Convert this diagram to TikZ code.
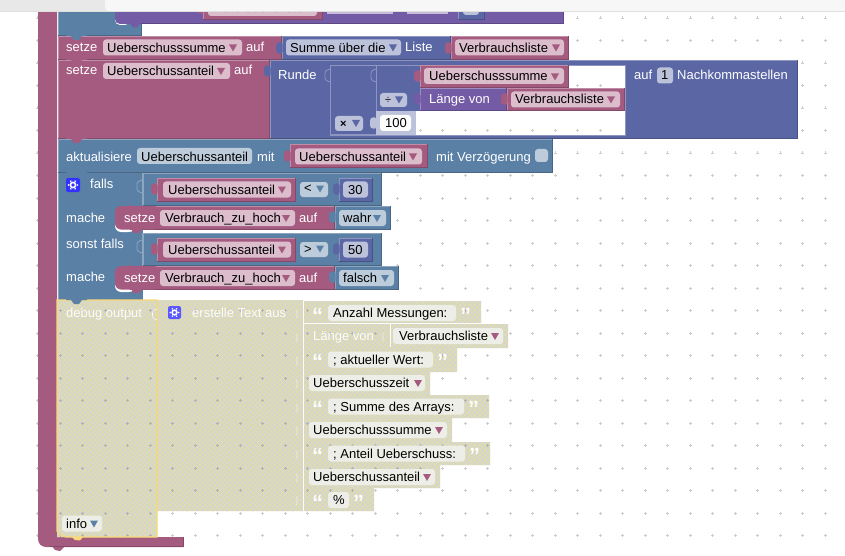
\documentclass[tikz,border=0pt]{standalone}
\usepackage{fontspec}
\setmainfont{Liberation Sans}
\definecolor{mag}{HTML}{A55B80}
\definecolor{magL}{HTML}{C08DA6}
\definecolor{magD}{HTML}{844966}
\definecolor{magF}{HTML}{DBBDCC}
\definecolor{blu}{HTML}{5B80A5}
\definecolor{bluL}{HTML}{8DA6C0}
\definecolor{bluD}{HTML}{496684}
\definecolor{bluF}{HTML}{BDCCDB}
\definecolor{mat}{HTML}{5B67A5}
\definecolor{matL}{HTML}{8D95C0}
\definecolor{matD}{HTML}{495284}
\definecolor{matF}{HTML}{BDC2DB}
\definecolor{lis}{HTML}{745BA5}
\definecolor{lisL}{HTML}{9D8DC0}
\definecolor{lisD}{HTML}{5D4984}
\definecolor{lisF}{HTML}{C7BDDB}
\definecolor{dis}{HTML}{D4D4D2}
\definecolor{disF}{HTML}{EEEEE8}
\definecolor{hatch}{HTML}{E4E29C}
\definecolor{gridc}{HTML}{CCCCCC}
\definecolor{frame}{HTML}{F8D878}
\tikzset{
  x=1pt,y=-1pt,
  lbl/.style={font=\fontsize{13}{16}\selectfont,inner sep=0pt,anchor=base west,text=white},
  dislbl/.style={lbl,text=white!92!dis},
  ftxt/.style={lbl,text=black},
  hatchline/.style={draw=hatch,line width=.5pt},
  quot/.style={dislbl,font=\bfseries\fontsize{22}{22}\selectfont},
}
\newcommand{\blk}[5]{%
  \fill[#5] (#1,#2) rectangle (#3,#4);
  \draw[#5L,line width=.8pt] (#1+.4,#4) -- (#1+.4,#2+.4) -- (#3,#2+.4);
  \draw[#5D,line width=.8pt] (#3-.4,#2) -- (#3-.4,#4-.4) -- (#1,#4-.4);
}
\newcommand{\tabL}[3]{%
  \fill[#3,rounded corners=1.3pt] (#1+.5,#2+2) -- (#1-3,#2+1) -- (#1-6,#2+3) -- (#1-6,#2+11) -- (#1-3,#2+13) -- (#1+.5,#2+12) -- cycle;
}
\newcommand{\fld}[4]{%
  \fill[#4,rounded corners=3pt] (#1,#3-8) rectangle (#2,#3+8);
}
\newcommand{\arr}[3]{%
  \fill[#3] (#1-4,#2-3.5) -- (#1+4,#2-3.5) -- (#1,#2+3.5) -- cycle;
}
\newcommand{\notch}[3]{%
  \fill[#3] (#1,#2) -- (#1+5,#2) -- (#1+8,#2+4) -- (#1+13,#2+4) -- (#1+16,#2) -- (#1+21,#2) -- (#1+21,#2-2) -- (#1,#2-2) -- cycle;
}
\newcommand{\gridpt}[3]{%
  \fill[#3] (#1-1.5,#2-.4) rectangle (#1+1.5,#2+.4);
  \fill[#3] (#1-.4,#2-1.5) rectangle (#1+.4,#2+1.5);
}
\newcommand{\hatchclip}[1]{%
  \begin{scope}
    \clip #1;
    \fill[dis] (40,295) rectangle (530,545);
    \foreach \k in {-60,...,180} {
      \draw[hatchline] (\k*5,295) -- (\k*5+250,545);
      \draw[hatchline] (\k*5,295) -- (\k*5-250,545);
    }
    \foreach \i in {0,...,36} \foreach \j in {13,...,24} {
      \gridpt{37.5+22.5*\i}{18+22.5*\j}{gray!60}
    }
  \end{scope}
}
\begin{document}
\begin{tikzpicture}
\useasboundingbox (0,0) rectangle (845,556);
\fill[white] (0,0) rectangle (845,556);
\foreach \i in {0,...,36} \foreach \j in {0,...,23} {
  \gridpt{37.5+22.5*\i}{18+22.5*\j}{gridc}
}
% outer C-block
\fill[mag] (57,5) -- (38,5) -- (38,500) [rounded corners=8pt] -- (38,547) -- (100,547) [sharp corners] -- (183,547) -- (183,537) -- (57,537) -- cycle;
\fill[mag] (52,546) -- (55,550) -- (60,551) -- (65,546) -- cycle;
\draw[magD,line width=.8pt] (183,537) -- (183,546.6) -- (50,546.6);
% top fragment
\blk{58}{5}{142}{36}{blu}
\fill[white,rounded corners=5pt] (115,5) -- (115,25) -- (130,25) -- (130,5) -- cycle;
\blk{125}{5}{564}{24}{lis}
\fill[lis,rounded corners=5pt] (115,5) -- (115,24) -- (141,24) -- (141,5) -- cycle;
\fill[lis] (130,23) -- (133,27.5) -- (137,27.5) -- (141,23) -- cycle;
\blk{203}{5}{323}{20}{mag}
\tabL{203}{1}{mag}
\fld{208}{317}{8}{magF}
\node[ftxt] (t0) at (214,13) {Verbrauchsliste};
\fill[lisF] (327,5) rectangle (393,14);
\fill[lisF] (407,5) rectangle (448,14);
\blk{458}{5}{485}{20}{mat}
\fld{463}{479}{7}{matF}
\node[ftxt] (t00) at (468,12) {1};
% top bar
\fill[white!97!black] (0,0) rectangle (845,11);
\fill[white!91!black] (0,0) -- (105,0) -- (105,8) -- (107,11) -- (0,11) -- cycle;
\draw[white!88!black,line width=.8pt] (0,11.4) -- (845,11.4);

% setze Ueberschusssumme
\blk{58}{36}{282}{60}{mag}
\notch{66}{36}{blu}
\node[lbl] (a1) at (66,52) {setze};
\fld{103}{242}{47.5}{magF}
\node[ftxt] (a2) at (107,52.5) {Ueberschusssumme};
\arr{233}{48}{mag}
\node[lbl] (a3) at (246,52) {auf};
\blk{282}{36}{451}{60}{mat}
\tabL{282}{41}{mat}
\fld{286}{401}{47.5}{matF}
\node[ftxt] (a4) at (290,52.5) {Summe über die};
\arr{393}{48}{mat}
\node[lbl] (a5) at (405,52) {Liste};
\blk{451}{36}{569}{60}{mag}
\tabL{451}{41}{mag}
\fld{455}{564}{47.5}{magF}
\node[ftxt] (a6) at (459,52.5) {Verbrauchsliste};
\arr{556}{48}{mag}

% setze Ueberschussanteil
\blk{58}{60}{270}{139}{mag}
\notch{66}{60}{mag}
\node[lbl] (b1) at (66,75) {setze};
\fld{103}{230}{71}{magF}
\node[ftxt] (b2) at (107,75.5) {Ueberschussanteil};
\arr{221}{71.5}{mag}
\node[lbl] (b3) at (234,75) {auf};
\blk{270}{60}{798}{139}{mat}
\tabL{270}{64}{mat}
\node[lbl] (b4) at (278,80) {Runde};
\fill[white] (330,65) rectangle (626,135);
\foreach \i in {14,...,25} \foreach \j in {3,...,5} {
  \gridpt{37.5+22.5*\i}{18+22.5*\j}{gridc}
}
\draw[matL,line width=.8pt] (330.4,135) -- (330.4,65.4) -- (626,65.4);
\draw[matL,line width=.8pt] (330,135) -- (625.6,135) -- (625.6,65);
% x block
\fill[mat] (331,66) rectangle (376,135);
\draw[matL,line width=.8pt] (331,134.6) -- (376,134.6);
\fill[matF,rounded corners=3pt] (335,116) rectangle (363,131);
\node[ftxt,font=\fontsize{11}{13}\selectfont\bfseries] (b5) at (340,127.5) {×};
\arr{356}{123.5}{mat}
% 100
\fill[matF] (376,111) rectangle (416,135);
\tabL{376}{116}{matF}
\fill[white!96!matF,rounded corners=3pt] (380,115) rectangle (411,131);
\node[ftxt] (b6) at (385,128) {100};
% div block
\fill[mat] (376,66) rectangle (420,111);
\draw[matL,line width=.8pt] (376.4,66) -- (376.4,111);
\fill[matF,rounded corners=3pt] (380,93) rectangle (407,107);
\node[ftxt,font=\fontsize{11}{13}\selectfont] (b7) at (385,104) {÷};
\arr{399}{100}{mat}
% Ueberschusssumme
\blk{420}{65}{569}{88}{mag}
\tabL{420}{69}{mag}
\fld{424}{564}{76}{magF}
\node[ftxt] (b8) at (429,81) {Ueberschusssumme};
\arr{555}{77}{mag}
% Laenge von
\blk{420}{88}{507}{111}{lis}
\tabL{420}{92}{lis}
\node[lbl] (b9) at (429,104) {Länge von};
\blk{507}{88}{625}{111}{mag}
\tabL{507}{92}{mag}
\fld{511}{620}{99.5}{magF}
\node[ftxt] (b10) at (515,104) {Verbrauchsliste};
\arr{611}{100}{mag}
% sockets
\draw[matL,line width=.8pt,rounded corners=1pt] (330.5,69) -- (327,70) -- (325,72) -- (325,79) -- (327,81) -- (330.5,82);
\draw[matL,line width=.8pt,rounded corners=1pt] (376.5,69) -- (373,70) -- (371,72) -- (371,79) -- (373,81) -- (376.5,82);
\node[lbl] (b11) at (634,80) {auf};
\fld{657}{673}{75.5}{matF}
\node[ftxt] (b12) at (661,80) {1};
\node[lbl] (b13) at (677,80) {Nachkommastellen};

% aktualisiere
\blk{58}{139}{553}{173}{blu}
\notch{66}{139}{mag}
\node[lbl] (c1) at (66,161) {aktualisiere};
\fld{137}{252}{156}{bluF}
\node[ftxt] (c2) at (141,161) {Ueberschussanteil};
\node[lbl] (c3) at (257,161) {mit};
\blk{290}{144.5}{428}{168}{mag}
\tabL{290}{149}{mag}
\fld{295}{422}{156.5}{magF}
\node[ftxt] (c4) at (299,161.5) {Ueberschussanteil};
\arr{413}{157}{mag}
\node[lbl] (c5) at (436,161) {mit Verzögerung};
\fill[bluF,rounded corners=3pt] (535,149) rectangle (548,162);

% falls
\fill[blu] (58,173) rectangle (143,300);
\draw[bluL,line width=.8pt] (58.4,173) -- (58.4,300);
\notch{66}{173}{blu}
\blk{143}{173}{382}{206}{blu}
\blk{143}{233}{382}{266}{blu}
\draw[bluL,line width=.8pt] (142.8,173) -- (142.8,206);
\draw[bluL,line width=.8pt] (142.8,233) -- (142.8,266);
% gear
\fill[blue!80!white,rounded corners=2pt] (66,178) rectangle (80,192);
\draw[white,line width=1.6pt] (73,185) circle (2.6pt);
\foreach \a in {0,60,...,300} \fill[white] (73,185) ++(\a:4.4pt) circle (.9pt);
\node[lbl] (d1) at (90,189) {falls};
\draw[bluL,line width=.8pt,rounded corners=1pt] (142.5,180) -- (139,181) -- (137,183) -- (137,190) -- (139,192) -- (142.5,193);
\draw[bluL,line width=.8pt,rounded corners=1pt] (142.5,240) -- (139,241) -- (137,243) -- (137,250) -- (139,252) -- (142.5,253);
\blk{157}{178}{296}{202}{mag}
\tabL{157}{182}{mag}
\fld{163}{291}{189.5}{magF}
\node[ftxt] (d2) at (168,194.5) {Ueberschussanteil};
\arr{282}{190}{mag}
\fill[bluF,rounded corners=3pt] (300,182) rectangle (328,197);
\node[ftxt] (d3) at (304,193) {<};
\arr{320}{189}{blu}
\blk{339}{178}{373}{202}{mat}
\tabL{339}{182}{mat}
\fld{343}{368}{189.5}{matF}
\node[ftxt] (d4) at (348,194.5) {30};
% then 1
\node[lbl] (d5) at (66,222) {mache};
\fill[white,rounded corners=6pt] (115,210) -- (115,232) -- (135,232) -- (135,210) -- cycle;
\blk{130}{206}{335}{229.5}{mag}
\fill[mag,rounded corners=6pt] (115,206) rectangle (160,229.5);
\fill[mag] (128,204.5) .. controls (133,209) and (137,209) .. (142,205) -- (142,208) -- (128,208) -- cycle;
\fill[mag] (131,229) -- (134,233) -- (139,233) -- (142,229) -- cycle;
\node[lbl] (d6) at (124,222.5) {setze};
\fld{160}{295}{218}{magF}
\node[ftxt] (d7) at (165,222.5) {Verbrauch\_zu\_hoch};
\arr{286}{218.5}{mag}
\node[lbl] (d8) at (299,222.5) {auf};
\blk{335}{206}{391}{230}{blu}
\tabL{335}{210}{blu}
\fld{339}{386}{218}{bluF}
\node[ftxt] (d9) at (343,222.5) {wahr};
\arr{377}{218.5}{blu}
% sonst falls
\node[lbl] (e1) at (66,248) {sonst falls};
\blk{157}{238}{296}{262}{mag}
\tabL{157}{242}{mag}
\fld{163}{291}{249.5}{magF}
\node[ftxt] (e2) at (168,254.5) {Ueberschussanteil};
\arr{282}{250}{mag}
\fill[bluF,rounded corners=3pt] (300,242) rectangle (328,257);
\node[ftxt] (e3) at (304,253) {>};
\arr{320}{249}{blu}
\blk{339}{238}{373}{262}{mat}
\tabL{339}{242}{mat}
\fld{343}{368}{249.5}{matF}
\node[ftxt] (e4) at (348,254.5) {50};
% then 2
\node[lbl] (e5) at (66,281.5) {mache};
\fill[white,rounded corners=6pt] (115,270) -- (115,292) -- (135,292) -- (135,270) -- cycle;
\blk{130}{266}{335}{289.5}{mag}
\fill[mag,rounded corners=6pt] (115,266) rectangle (160,289.5);
\fill[mag] (128,264.5) .. controls (133,269) and (137,269) .. (142,265) -- (142,268) -- (128,268) -- cycle;
\fill[mag] (131,289) -- (134,293) -- (139,293) -- (142,289) -- cycle;
\node[lbl] (e6) at (124,282.5) {setze};
\fld{160}{295}{278}{magF}
\node[ftxt] (e7) at (165,282.5) {Verbrauch\_zu\_hoch};
\arr{286}{278.5}{mag}
\node[lbl] (e8) at (299,282.5) {auf};
\blk{335}{266}{399}{290}{blu}
\tabL{335}{270}{blu}
\fld{339}{394}{278}{bluF}
\node[ftxt] (e9) at (343,282.5) {falsch};
\arr{385}{278.5}{blu}

% disabled debug block
\hatchclip{(57,300) -- (303,300) -- (303,301) -- (481,301) -- (481,324) -- (508,324) -- (508,348) -- (457,348) -- (457,372) -- (430,372) -- (430,395) -- (489,395) -- (489,418) -- (452,418) -- (452,442) -- (490,442) -- (490,465) -- (440,465) -- (440,488) -- (374,488) -- (374,511) -- (157,511) -- (157,537) -- (57,537) -- cycle}
\draw[frame,line width=1.3pt] (57,300) -- (157,300) -- (157,537) -- (66,537) -- (60,535) -- (57,531) -- cycle;
\fill[frame] (72,537) -- (75,540) -- (80,540.5) -- (83,537) -- cycle;
\notch{66}{300}{blu}
\draw[white!80!dis,line width=.6pt,rounded corners=1pt] (157.5,309) -- (154,310) -- (152.5,312) -- (152.5,317) -- (154,319) -- (157.5,320);
\node[dislbl] (f1) at (66,317) {debug output};
\fill[blue!65!white,rounded corners=2pt] (168,306) rectangle (181,319);
\draw[white,line width=1.5pt] (174.5,312.5) circle (2.4pt);
\foreach \a in {0,60,...,300} \fill[white] (174.5,312.5) ++(\a:4.2pt) circle (.85pt);
\node[dislbl] (f2) at (192,317) {erstelle Text aus};
\draw[white!90!dis,line width=.8pt] (303.4,301) -- (303.4,511);
\draw[white!90!dis,line width=.8pt] (303.4,323.6) -- (481,323.6);
\draw[white!90!dis,line width=.8pt] (390,324) -- (390,347);
\fld{62}{102}{523.5}{disF}
\node[ftxt] (f3) at (66,528) {info};
\arr{94}{524}{blu}
% text rows
\foreach \yy in {309,333,356,379,403,426,450,473,496}
  \draw[white!60!dis,line width=.6pt,rounded corners=1pt] (296,\yy+1) -- (297,\yy+1) -- (297,\yy+9) -- (296,\yy+9);
\draw[white!60!dis,line width=.6pt,rounded corners=1pt] (384,333) -- (383,333) -- (383,341) -- (384,341);
\fld{328}{456}{313}{disF}
\node[ftxt] (g1) at (333,317.5) {Anzahl Messungen:};
\node[quot] (g1a) at (312,323) {“};
\node[quot] (g1b) at (460,323) {”};
\node[dislbl] (g2) at (313,340.5) {Länge von};
\fld{393}{503}{336}{disF}
\node[ftxt] (g2b) at (399,340.5) {Verbrauchsliste};
\arr{495}{336.5}{mag}
\fld{328}{433}{359.5}{disF}
\node[ftxt] (g3) at (333,364) {; aktueller Wert:};
\node[quot] (g3a) at (312,369.5) {“};
\node[quot] (g3b) at (437,369.5) {”};
\fld{309}{425}{383}{disF}
\node[ftxt] (g4) at (313,387.5) {Ueberschusszeit};
\arr{418}{383.5}{mag}
\fld{328}{464}{406.5}{disF}
\node[ftxt] (g5) at (333,411) {; Summe des Arrays:};
\node[quot] (g5a) at (312,416.5) {“};
\node[quot] (g5b) at (468,416.5) {”};
\fld{309}{447}{430}{disF}
\node[ftxt] (g6) at (313,434.5) {Ueberschusssumme};
\arr{439}{430.5}{mag}
\fld{328}{465}{453.5}{disF}
\node[ftxt] (g7) at (333,458) {; Anteil Ueberschuss:};
\node[quot] (g7a) at (312,463.5) {“};
\node[quot] (g7b) at (469,463.5) {”};
\fld{309}{435}{477}{disF}
\node[ftxt] (g8) at (313,481.5) {Ueberschussanteil};
\arr{427}{477.5}{mag}
\fld{328}{349}{500}{disF}
\node[ftxt] (g9) at (333,504.5) {\%};
\node[quot] (g9a) at (312,510) {“};
\node[quot] (g9b) at (353,510) {”};
\end{tikzpicture}
\end{document}
